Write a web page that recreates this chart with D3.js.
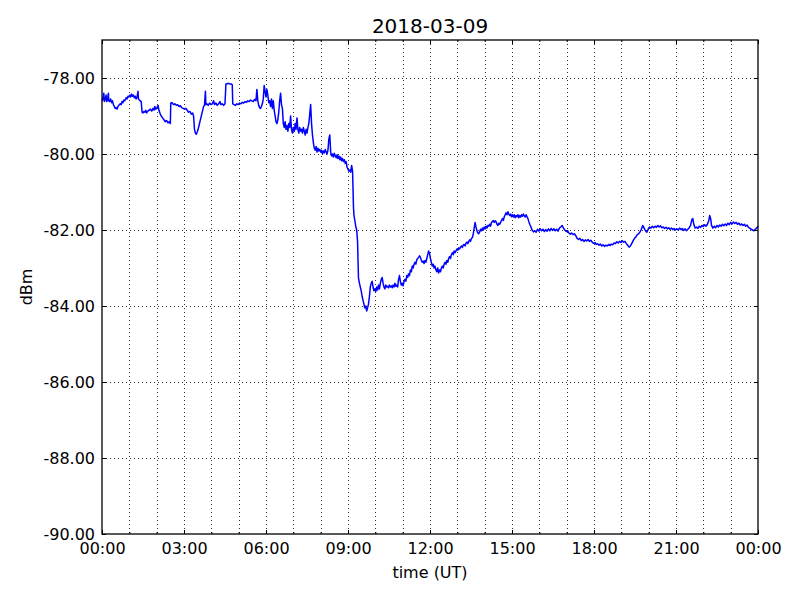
<!DOCTYPE html>
<html>
<head>
<meta charset="utf-8">
<script src="https://cdn.jsdelivr.net/npm/d3@7"></script>
<style>
  body { margin: 0; background: #fff; }
  text { font-family: "DejaVu Sans", sans-serif; fill: #000; }
</style>
</head>
<body>
<svg id="chart" width="800" height="600"></svg>
<script>
const title = "2018-03-09";
const dayStart = "2018-03-09T00:00:00Z";
const dayEnd = "2018-03-10T00:00:00Z";
const yTicks = [-90, -88, -86, -84, -82, -80, -78];
const yDomain = [-90, -77];

// [minutes after 00:00 UT, dBm]
const samples = [
  [0,-78.6],[2,-78.55],[4,-78.4],[5,-78.62],[7,-78.55],[9,-78.45],[10,-78.62],[12,-78.58],
  [14,-78.4],[15,-78.6],[17,-78.62],[19,-78.55],[21,-78.65],[23,-78.6],[25,-78.7],[27,-78.75],
  [29,-78.8],[31,-78.78],[33,-78.82],[35,-78.75],[37,-78.72],[40,-78.68],[42,-78.7],[44,-78.62],
  [46,-78.65],[48,-78.58],[50,-78.6],[53,-78.52],[55,-78.55],[57,-78.48],[59,-78.5],[61,-78.45],
  [63,-78.5],[65,-78.42],[67,-78.48],[69,-78.45],[71,-78.52],[73,-78.48],[75,-78.55],[77,-78.5],
  [79,-78.35],[80,-78.55],[82,-78.58],[84,-78.6],[86,-78.62],[88,-78.9],[90,-78.92],[92,-78.88],
  [94,-78.9],[96,-78.85],[98,-78.92],[100,-78.88],[103,-78.85],[106,-78.82],[109,-78.87],[112,-78.8],
  [114,-78.85],[116,-78.75],[118,-78.82],[121,-78.78],[123,-78.72],[125,-78.85],[128,-78.95],[130,-79.0],
  [133,-79.05],[136,-79.1],[139,-79.15],[142,-79.12],[145,-79.18],[148,-79.15],[150,-79.2],[151,-78.66],
  [154,-78.65],[157,-78.7],[160,-78.68],[163,-78.72],[166,-78.7],[169,-78.75],[172,-78.73],[175,-78.78],
  [178,-78.8],[181,-78.82],[184,-78.8],[187,-78.85],[190,-78.9],[193,-78.88],[196,-78.95],[199,-78.92],
  [201,-79.0],[203,-79.35],[205,-79.45],[207,-79.48],[209,-79.42],[211,-79.35],[213,-79.25],[215,-79.15],
  [217,-79.05],[219,-78.95],[221,-78.85],[223,-78.75],[225,-78.72],[227,-78.35],[228,-78.7],[230,-78.68],
  [233,-78.72],[236,-78.66],[239,-78.7],[242,-78.68],[245,-78.6],[247,-78.7],[250,-78.66],[253,-78.72],
  [256,-78.68],[259,-78.62],[261,-78.7],[264,-78.68],[267,-78.72],[270,-78.68],[272,-78.16],[275,-78.15],
  [278,-78.14],[281,-78.16],[284,-78.16],[286,-78.18],[287,-78.68],[290,-78.7],[293,-78.72],[296,-78.68],
  [299,-78.7],[302,-78.66],[305,-78.68],[308,-78.64],[311,-78.66],[314,-78.62],[317,-78.64],[320,-78.6],
  [323,-78.62],[326,-78.58],[329,-78.6],[332,-78.62],[335,-78.56],[338,-78.6],[340,-78.3],[342,-78.6],
  [344,-78.72],[346,-78.78],[348,-78.8],[350,-78.75],[352,-78.68],[354,-78.55],[356,-78.2],[358,-78.35],
  [360,-78.5],[362,-78.3],[364,-78.45],[366,-78.65],[368,-78.6],[370,-78.75],[372,-78.55],[374,-78.8],
  [376,-78.6],[378,-78.85],[380,-79.0],[382,-79.15],[384,-79.2],[386,-79.1],[388,-78.9],[390,-78.6],
  [392,-78.4],[394,-78.7],[396,-78.8],[398,-79.2],[400,-79.3],[402,-79.15],[404,-79.35],[406,-79.25],
  [408,-79.4],[410,-79.2],[412,-79.3],[414,-79.0],[416,-79.35],[418,-79.45],[420,-79.3],[422,-79.4],
  [424,-79.2],[426,-79.35],[428,-79.05],[430,-79.35],[432,-79.45],[434,-79.3],[436,-79.4],[438,-79.35],
  [440,-79.45],[442,-79.3],[444,-79.4],[446,-79.5],[448,-79.35],[450,-79.45],[452,-79.3],[454,-79.2],
  [456,-78.95],[458,-78.7],[460,-79.2],[462,-79.5],[464,-79.7],[466,-79.85],[468,-79.9],[470,-79.8],
  [472,-79.95],[474,-79.85],[476,-79.92],[478,-79.88],[480,-79.95],[482,-79.9],[484,-80.0],[486,-79.92],
  [488,-79.97],[490,-79.88],[492,-79.95],[494,-80.0],[496,-79.9],[498,-79.6],[500,-79.5],[502,-79.95],
  [504,-80.05],[506,-80.0],[508,-80.08],[510,-79.98],[512,-80.05],[514,-80.1],[516,-80.02],[518,-80.12],
  [520,-80.05],[522,-80.15],[524,-80.08],[526,-80.18],[528,-80.12],[530,-80.2],[532,-80.15],[534,-80.25],
  [536,-80.2],[538,-80.35],[540,-80.4],[542,-80.45],[544,-80.42],[546,-80.48],[548,-80.3],[550,-80.45],
  [551,-80.9],[552,-81.4],[553,-81.6],[555,-81.75],[557,-81.9],[559,-82.0],[561,-82.3],[562,-82.8],
  [563,-83.26],[565,-83.4],[567,-83.5],[569,-83.6],[571,-83.75],[573,-83.85],[575,-83.95],[577,-84.05],
  [579,-84.0],[581,-84.13],[583,-84.05],[585,-83.95],[587,-83.75],[589,-83.5],[591,-83.4],[593,-83.35],
  [595,-83.5],[597,-83.6],[599,-83.55],[601,-83.62],[603,-83.5],[605,-83.58],[607,-83.45],[609,-83.55],
  [611,-83.4],[613,-83.3],[615,-83.25],[617,-83.4],[619,-83.5],[621,-83.55],[623,-83.45],[625,-83.5],
  [627,-83.48],[629,-83.52],[631,-83.45],[633,-83.5],[635,-83.47],[637,-83.52],[639,-83.45],[641,-83.5],
  [643,-83.4],[645,-83.48],[647,-83.45],[649,-83.5],[651,-83.3],[653,-83.2],[655,-83.35],[657,-83.45],
  [659,-83.4],[661,-83.47],[663,-83.35],[665,-83.3],[667,-83.35],[669,-83.2],[671,-83.25],[673,-83.15],
  [675,-83.2],[677,-83.05],[679,-83.1],[681,-82.95],[683,-83.0],[685,-82.9],[687,-82.85],[689,-82.9],
  [691,-82.78],[693,-82.75],[695,-82.72],[697,-82.68],[699,-82.72],[701,-82.8],[703,-82.85],[705,-82.82],
  [707,-82.88],[709,-82.8],[711,-82.85],[713,-82.75],[715,-82.65],[717,-82.55],[719,-82.62],[721,-82.75],
  [723,-82.85],[725,-82.95],[727,-82.9],[729,-83.0],[731,-82.95],[733,-83.05],[735,-83.1],[737,-83.0],
  [739,-83.13],[741,-83.05],[743,-83.1],[745,-83.0],[747,-82.95],[749,-83.0],[751,-82.9],[753,-82.85],
  [755,-82.9],[757,-82.8],[759,-82.85],[761,-82.75],[763,-82.7],[765,-82.75],[767,-82.65],[769,-82.6],
  [771,-82.65],[773,-82.55],[775,-82.6],[777,-82.55],[779,-82.5],[781,-82.53],[783,-82.47],[785,-82.5],
  [787,-82.45],[789,-82.42],[791,-82.46],[793,-82.4],[795,-82.38],[797,-82.42],[799,-82.35],[801,-82.32],
  [803,-82.36],[805,-82.3],[807,-82.26],[809,-82.3],[811,-82.22],[813,-82.2],[815,-82.1],[817,-81.95],
  [819,-81.8],[821,-81.92],[823,-82.02],[825,-82.08],[827,-82.1],[829,-82.05],[831,-81.98],[833,-82.02],
  [835,-81.95],[837,-82.0],[839,-81.92],[841,-81.97],[843,-81.9],[845,-81.95],[847,-81.88],[849,-81.9],
  [851,-81.85],[853,-81.9],[855,-81.8],[857,-81.78],[859,-81.75],[861,-81.8],[863,-81.76],[865,-81.78],
  [867,-81.85],[869,-81.88],[871,-81.82],[873,-81.85],[875,-81.8],[877,-81.75],[879,-81.7],[881,-81.75],
  [883,-81.65],[885,-81.6],[887,-81.55],[889,-81.6],[891,-81.52],[893,-81.58],[895,-81.62],[897,-81.58],
  [899,-81.65],[901,-81.6],[903,-81.66],[905,-81.6],[907,-81.68],[909,-81.62],[911,-81.65],[913,-81.6],
  [915,-81.68],[917,-81.62],[919,-81.66],[921,-81.6],[923,-81.64],[925,-81.58],[927,-81.62],[929,-81.66],
  [931,-81.6],[933,-81.65],[935,-81.7],[937,-81.78],[939,-81.85],[941,-81.9],[944,-82.0],[947,-82.05],
  [950,-82.02],[953,-82.06],[956,-81.98],[959,-82.03],[962,-81.97],[965,-82.02],[968,-81.98],[971,-82.04],
  [974,-81.99],[977,-82.03],[980,-81.97],[983,-82.02],[986,-81.96],[989,-82.01],[992,-81.97],[995,-82.02],
  [998,-81.98],[1001,-82.03],[1004,-81.95],[1007,-81.92],[1010,-81.88],[1013,-81.95],[1016,-82.0],[1019,-82.04],
  [1022,-82.02],[1025,-82.08],[1028,-82.11],[1031,-82.08],[1034,-82.12],[1037,-82.1],[1040,-82.15],[1043,-82.22],
  [1046,-82.25],[1049,-82.22],[1052,-82.28],[1055,-82.25],[1058,-82.3],[1061,-82.26],[1064,-82.29],[1067,-82.25],
  [1070,-82.3],[1073,-82.27],[1076,-82.32],[1079,-82.35],[1082,-82.33],[1085,-82.38],[1088,-82.36],[1091,-82.4],
  [1094,-82.37],[1097,-82.42],[1100,-82.39],[1103,-82.43],[1106,-82.4],[1109,-82.42],[1112,-82.38],[1115,-82.41],
  [1118,-82.37],[1121,-82.39],[1124,-82.34],[1127,-82.36],[1130,-82.31],[1133,-82.34],[1136,-82.3],[1139,-82.33],
  [1142,-82.28],[1145,-82.32],[1148,-82.3],[1151,-82.36],[1154,-82.4],[1157,-82.45],[1160,-82.42],[1163,-82.35],
  [1166,-82.28],[1169,-82.22],[1172,-82.18],[1175,-82.12],[1178,-82.1],[1181,-82.05],[1184,-81.98],[1187,-81.88],
  [1190,-81.95],[1193,-82.02],[1196,-82.06],[1199,-81.98],[1202,-81.92],[1205,-81.95],[1208,-81.9],[1211,-81.94],
  [1214,-81.9],[1217,-81.93],[1220,-81.88],[1223,-81.92],[1226,-81.89],[1229,-81.94],[1232,-81.92],[1235,-81.96],
  [1238,-81.93],[1241,-81.97],[1244,-81.94],[1247,-81.98],[1250,-81.95],[1253,-81.99],[1256,-81.96],[1259,-82.0],
  [1262,-81.97],[1265,-82.0],[1268,-81.95],[1271,-81.99],[1274,-81.96],[1277,-82.01],[1280,-81.97],[1283,-82.02],
  [1286,-81.98],[1289,-81.94],[1292,-81.88],[1295,-81.72],[1297,-81.7],[1299,-81.85],[1302,-81.95],[1305,-81.92],
  [1308,-81.96],[1311,-81.9],[1314,-81.93],[1317,-81.88],[1320,-81.91],[1323,-81.86],[1326,-81.9],[1329,-81.85],
  [1332,-81.75],[1334,-81.62],[1336,-81.7],[1338,-81.88],[1341,-81.95],[1344,-81.9],[1347,-81.94],[1350,-81.88],
  [1353,-81.92],[1356,-81.87],[1359,-81.9],[1362,-81.85],[1365,-81.89],[1368,-81.84],[1371,-81.88],[1374,-81.82],
  [1377,-81.86],[1380,-81.8],[1383,-81.84],[1386,-81.79],[1389,-81.83],[1392,-81.8],[1395,-81.85],[1398,-81.82],
  [1401,-81.87],[1404,-81.84],[1407,-81.88],[1410,-81.85],[1413,-81.9],[1416,-81.87],[1419,-81.93],[1422,-81.95],
  [1425,-81.98],[1428,-82.0],[1431,-82.02],[1434,-81.98],[1437,-81.95],[1440,-81.9]
];

const margin = { top: 40, right: 42, bottom: 66, left: 102 };
const width = 800 - margin.left - margin.right;
const height = 600 - margin.top - margin.bottom;

const svg = d3.select("#chart");
const g = svg.append("g").attr("transform", `translate(${margin.left},${margin.top})`);

const t0 = new Date(dayStart);
const t1 = new Date(dayEnd);
const x = d3.scaleUtc().domain([t0, t1]).range([0, width]);
const y = d3.scaleLinear().domain(yDomain).range([height, 0]);

const hourTicks = d3.utcHour.every(1).range(t0, t1).concat([t1]);
const majorTicks = hourTicks.filter(d => d.getUTCHours() % 3 === 0);
const minorTicks = hourTicks.filter(d => d.getUTCHours() % 3 !== 0);

// plain hyphen for negatives, like the original
const fmt = d3.formatLocale({ decimal: ".", thousands: ",", grouping: [3], currency: ["", ""], minus: "-" }).format(".2f");

// dotted grid
const grid = g.append("g")
  .attr("stroke", "#333")
  .attr("stroke-width", 1)
  .attr("stroke-dasharray", "1,3")
  .attr("shape-rendering", "crispEdges");
grid.selectAll(".vgrid")
  .data(hourTicks.slice(1, -1))
  .join("line")
  .attr("class", "vgrid")
  .attr("x1", d => Math.round(x(d)) + 0.5)
  .attr("x2", d => Math.round(x(d)) + 0.5)
  .attr("y1", 0)
  .attr("y2", height);
grid.selectAll(".hgrid")
  .data(yTicks.slice(1))
  .join("line")
  .attr("class", "hgrid")
  .attr("x1", 0)
  .attr("x2", width)
  .attr("y1", d => Math.round(y(d)) + 0.5)
  .attr("y2", d => Math.round(y(d)) + 0.5);

// signal trace
const line = d3.line()
  .x(d => x(new Date(t0.getTime() + d[0] * 60000)))
  .y(d => y(d[1]));

g.append("path")
  .datum(samples)
  .attr("fill", "none")
  .attr("stroke", "#0000ff")
  .attr("stroke-width", 1.5)
  .attr("stroke-linejoin", "round")
  .attr("d", line);

// axes, ticks pointing inward as in classic matplotlib
const styleAxis = sel => {
  sel.select(".domain").remove();
  sel.selectAll("line").attr("stroke", "#000").attr("stroke-width", 1);
  sel.selectAll("text")
    .attr("font-family", "DejaVu Sans, sans-serif")
    .attr("font-size", 16)
    .attr("fill", "#000");
};

g.append("g").attr("transform", `translate(0,${height})`)
  .call(d3.axisBottom(x).tickValues(majorTicks).tickFormat(d3.utcFormat("%H:%M"))
    .tickSizeInner(-4).tickSizeOuter(0).tickPadding(9))
  .call(styleAxis);
g.append("g").attr("transform", `translate(0,${height})`)
  .call(d3.axisBottom(x).tickValues(minorTicks).tickFormat("").tickSizeInner(-2).tickSizeOuter(0))
  .call(styleAxis);
g.append("g")
  .call(d3.axisTop(x).tickValues(majorTicks).tickFormat("").tickSizeInner(-4).tickSizeOuter(0))
  .call(styleAxis);
g.append("g")
  .call(d3.axisTop(x).tickValues(minorTicks).tickFormat("").tickSizeInner(-2).tickSizeOuter(0))
  .call(styleAxis);
g.append("g")
  .call(d3.axisLeft(y).tickValues(yTicks).tickFormat(fmt).tickSizeInner(-4).tickSizeOuter(0).tickPadding(7))
  .call(styleAxis);
g.append("g").attr("transform", `translate(${width},0)`)
  .call(d3.axisRight(y).tickValues(yTicks).tickFormat("").tickSizeInner(-4).tickSizeOuter(0))
  .call(styleAxis);

// frame
g.append("rect")
  .attr("width", width)
  .attr("height", height)
  .attr("fill", "none")
  .attr("stroke", "#000")
  .attr("stroke-width", 1.3);

svg.append("text")
  .attr("x", margin.left + width / 2)
  .attr("y", 33)
  .attr("text-anchor", "middle")
  .attr("font-size", 20)
  .text(title);

svg.append("text")
  .attr("x", margin.left + width / 2)
  .attr("y", 578)
  .attr("text-anchor", "middle")
  .attr("font-size", 16)
  .text("time (UT)");

svg.append("text")
  .attr("transform", `translate(32,${margin.top + height / 2}) rotate(-90)`)
  .attr("text-anchor", "middle")
  .attr("font-size", 16)
  .text("dBm");
</script>
</body>
</html>
